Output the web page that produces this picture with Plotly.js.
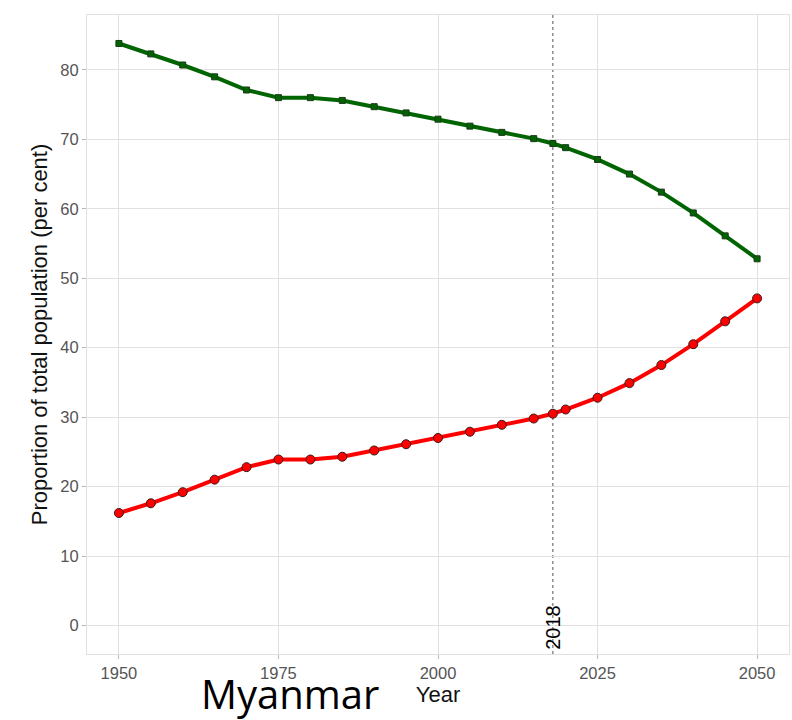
<!DOCTYPE html>
<html>
<head>
<meta charset="utf-8">
<script src="https://cdn.plot.ly/plotly-3.0.1.min.js"></script>
<style>html,body{margin:0;padding:0;background:#fff;}#chart{width:792px;height:720px;}</style>
</head>
<body>
<div id="chart"></div>
<script>
const years = [1950,1955,1960,1965,1970,1975,1980,1985,1990,1995,2000,2005,2010,2015,2018,2020,2025,2030,2035,2040,2045,2050];
const greenValues = [83.8,82.3,80.7,79.0,77.1,76.0,76.0,75.6,74.7,73.8,72.9,71.9,71.0,70.1,69.4,68.8,67.1,65.0,62.4,59.4,56.1,52.8];
const redValues = [16.2,17.6,19.2,21.0,22.8,23.9,23.9,24.3,25.2,26.1,27.0,27.9,28.9,29.8,30.5,31.1,32.8,34.9,37.5,40.5,43.8,47.1];
const markYear = 2018;
const xTicks = [1950,1975,2000,2025,2050];
const yTicks = [0,10,20,30,40,50,60,70,80];

const traces = [
  {x: years, y: greenValues, type: 'scatter', mode: 'lines+markers',
   line: {color: '#006400', width: 4},
   marker: {symbol: 'square', size: 6, color: '#006400', line: {color: '#1a3a1a', width: 1}},
   showlegend: false, hoverinfo: 'skip'},
  {x: years, y: redValues, type: 'scatter', mode: 'lines+markers',
   line: {color: '#ff0000', width: 4},
   marker: {symbol: 'circle', size: 9, color: '#ff0000', line: {color: '#3a1a1a', width: 1}},
   showlegend: false, hoverinfo: 'skip'}
];

const layout = {
  width: 792, height: 720,
  margin: {l: 87, r: 3, t: 15, b: 66},
  paper_bgcolor: '#ffffff', plot_bgcolor: '#ffffff',
  font: {family: 'Liberation Sans, Arial, sans-serif'},
  xaxis: {
    range: [1945, 2055], tickvals: xTicks, ticktext: xTicks.map(String),
    showgrid: true, gridcolor: '#e0e0e0', gridwidth: 1, zeroline: false,
    showline: true, linecolor: '#e0e0e0', linewidth: 1, mirror: true,
    ticks: 'outside', ticklen: 4, tickcolor: '#b8b8b8',
    tickfont: {size: 16.5, color: '#555555'},
    title: {text: 'Year', font: {size: 22, color: '#111111'}, standoff: 3}
  },
  yaxis: {
    range: [-4.1, 87.9], tickvals: yTicks, ticktext: yTicks.map(String),
    showgrid: true, gridcolor: '#e0e0e0', gridwidth: 1, zeroline: false,
    showline: true, linecolor: '#e0e0e0', linewidth: 1, mirror: true,
    ticks: 'outside', ticklen: 4, tickcolor: '#b8b8b8',
    tickfont: {size: 16.5, color: '#555555'},
    title: {text: 'Proportion of total population (per cent)', font: {size: 22, color: '#111111'}, standoff: 6}
  },
  shapes: [
    {type: 'line', xref: 'x', yref: 'paper', x0: markYear, x1: markYear, y0: 0, y1: 1,
     line: {color: '#555555', width: 1, dash: 'dot'}, layer: 'below'}
  ],
  annotations: [
    {x: markYear, xref: 'x', y: 0.004, yref: 'paper', text: String(markYear), textangle: -90,
     showarrow: false, xanchor: 'center', yanchor: 'bottom', font: {size: 20, color: '#000000'}},
    {text: 'Myanmar', showarrow: false, xref: 'paper', yref: 'paper',
     font: {size: 40, color: '#000000', family: 'Open Sans, sans-serif'}}
  ]
};
// Place "Myanmar" label in pixel terms via paper coords
layout.annotations[1].x = (290 - 87) / (792 - 87 - 3);
layout.annotations[1].y = (720 - 66 - 693) / (720 - 15 - 66);
layout.annotations[1].xanchor = 'center';
layout.annotations[1].yanchor = 'middle';

Plotly.newPlot('chart', traces, layout, {displayModeBar: false, staticPlot: true});
</script>
</body>
</html>
